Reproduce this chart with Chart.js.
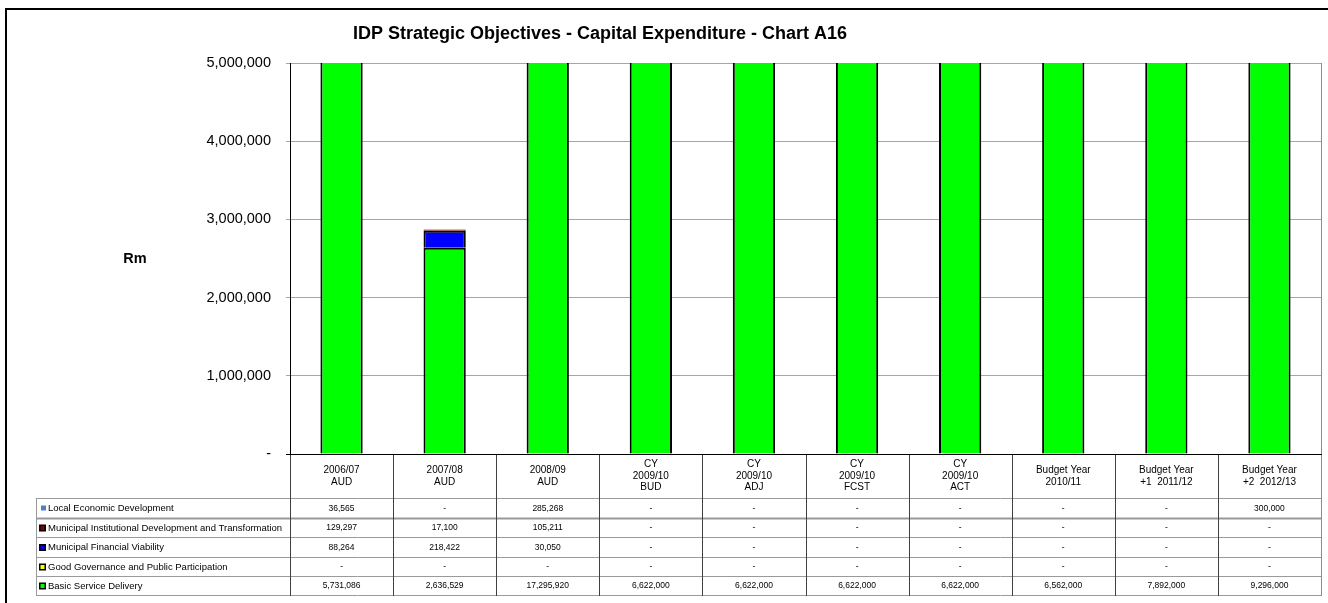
<!DOCTYPE html>
<html>
<head>
<meta charset="utf-8">
<title>IDP Strategic Objectives - Capital Expenditure - Chart A16</title>
<script src="https://cdn.jsdelivr.net/npm/chart.js@4/dist/chart.umd.min.js"></script>
<style>
  html, body {
    margin: 0;
    padding: 0;
    background: #ffffff;
  }
  canvas {
    display: block;
  }
</style>
</head>
<body>
<canvas id="capexChart" width="1328" height="603"></canvas>
<script>

// =====================================================
// DATA
// =====================================================

const TITLE =
  "IDP Strategic Objectives - Capital Expenditure - Chart A16";

const Y_TITLE = "Rm";

const categories = [
  ["2006/07", "AUD"],
  ["2007/08", "AUD"],
  ["2008/09", "AUD"],
  ["CY", "2009/10", "BUD"],
  ["CY", "2009/10", "ADJ"],
  ["CY", "2009/10", "FCST"],
  ["CY", "2009/10", "ACT"],
  ["Budget Year", "2010/11"],
  ["Budget Year", "+1  2011/12"],
  ["Budget Year", "+2  2012/13"]
];

const localEconomic =
  [36565, 0, 285268, 0, 0, 0, 0, 0, 0, 300000];

const institutional =
  [129297, 17100, 105211, 0, 0, 0, 0, 0, 0, 0];

const financialViability =
  [88264, 218422, 30050, 0, 0, 0, 0, 0, 0, 0];

const goodGovernance =
  [0, 0, 0, 0, 0, 0, 0, 0, 0, 0];

const basicService =
  [5731086, 2636529, 17295920, 6622000, 6622000,
   6622000, 6622000, 6562000, 7892000, 9296000];

const yTicks = [0, 1000000, 2000000, 3000000, 4000000, 5000000];

// =====================================================
// SERIES (bottom of stack first)
// =====================================================

const series = [
  { label: "Basic Service Delivery", data: basicService, color: "#00ff00", swatchBorder: true },
  { label: "Good Governance and Public Participation", data: goodGovernance, color: "#ffff00", swatchBorder: true },
  { label: "Municipal Financial Viability", data: financialViability, color: "#0000ff", swatchBorder: true },
  { label: "Municipal Institutional Development and Transformation", data: institutional, color: "#800000", swatchBorder: true },
  { label: "Local Economic Development", data: localEconomic, color: "#4f81bd", swatchBorder: false }
];

const FONT = "Arial, 'Liberation Sans', sans-serif";

function fmt(v) {
  return v === 0 ? "-" : v.toLocaleString("en-US");
}

// =====================================================
// PLUGIN: frame, titles, data table
// =====================================================

const excelPlugin = {

  id: "excelLook",

  beforeDraw(chart) {
    const ctx = chart.ctx;
    ctx.save();
    ctx.fillStyle = "#ffffff";
    ctx.fillRect(0, 0, chart.width, chart.height);

    // outer frame
    ctx.strokeStyle = "#000000";
    ctx.lineWidth = 2;
    ctx.beginPath();
    ctx.moveTo(6, chart.height);
    ctx.lineTo(6, 9);
    ctx.lineTo(chart.width, 9);
    ctx.stroke();

    // chart title
    ctx.fillStyle = "#000000";
    ctx.font = "bold 18px " + FONT;
    ctx.textAlign = "center";
    ctx.textBaseline = "middle";
    ctx.fillText(TITLE, 600, 34);

    // axis title, horizontal
    const area = chart.chartArea;
    ctx.font = "bold 14.5px " + FONT;
    ctx.fillText(Y_TITLE, 135, (area.top + area.bottom) / 2);
    ctx.restore();
  },

  afterDraw(chart) {
    const ctx = chart.ctx;
    const area = chart.chartArea;
    const x = chart.scales.x;

    const rowTops = [area.bottom, 498, 518, 537, 557, 576, 595];
    const legendLeft = 36;

    ctx.save();

    // plot right border
    ctx.strokeStyle = "#8c8c8c";
    ctx.lineWidth = 1;
    ctx.beginPath();
    ctx.moveTo(area.right + 0.5, area.top);
    ctx.lineTo(area.right + 0.5, area.bottom);
    ctx.stroke();

    // horizontal table lines
    ctx.strokeStyle = "#9a9a9a";
    for (let r = 1; r < rowTops.length; r++) {
      ctx.lineWidth = r === 2 ? 2 : 1;
      ctx.beginPath();
      ctx.moveTo(legendLeft, rowTops[r] + 0.5);
      ctx.lineTo(area.right + 1, rowTops[r] + 0.5);
      ctx.stroke();
    }
    ctx.lineWidth = 1;

    // legend column left edge
    ctx.beginPath();
    ctx.moveTo(legendLeft + 0.5, rowTops[1]);
    ctx.lineTo(legendLeft + 0.5, rowTops[rowTops.length - 1] + 1);
    ctx.stroke();

    // column separators
    for (let i = 0; i <= categories.length; i++) {
      const px = Math.round(x.getPixelForValue(i - 0.5)) + 0.5;
      ctx.strokeStyle = i === categories.length ? "#8c8c8c" : "#404040";
      ctx.beginPath();
      ctx.moveTo(px, area.bottom);
      ctx.lineTo(px, rowTops[rowTops.length - 1] + 1);
      ctx.stroke();
    }

    // x axis line
    ctx.strokeStyle = "#000000";
    ctx.beginPath();
    ctx.moveTo(area.left - 4, area.bottom + 0.5);
    ctx.lineTo(area.right + 1, area.bottom + 0.5);
    ctx.stroke();

    ctx.fillStyle = "#000000";
    ctx.textAlign = "center";
    ctx.textBaseline = "middle";

    // header labels
    ctx.font = "10px " + FONT;
    const headMid = (rowTops[0] + rowTops[1]) / 2;
    categories.forEach((lines, i) => {
      const cx = x.getPixelForValue(i);
      const lh = 11.5;
      const start = headMid - (lines.length - 1) * lh / 2;
      lines.forEach((t, k) => ctx.fillText(t, cx, start + k * lh));
    });

    // rows: table order is reverse of the stack
    const rows = series.slice().reverse();
    rows.forEach((s, r) => {
      const mid = (rowTops[r + 1] + rowTops[r + 2]) / 2 + 0.5;

      // swatch
      if (s.swatchBorder) {
        ctx.fillStyle = "#000000";
        ctx.fillRect(39, mid - 3.5, 7, 7);
        ctx.fillStyle = s.color;
        ctx.fillRect(40.5, mid - 2, 4, 4);
      } else {
        ctx.fillStyle = s.color;
        ctx.fillRect(41, mid - 3, 5, 5);
      }

      ctx.fillStyle = "#000000";
      ctx.font = "9.5px " + FONT;
      ctx.textAlign = "left";
      ctx.fillText(s.label, 48, mid);

      ctx.font = "8.5px " + FONT;
      ctx.textAlign = "center";
      s.data.forEach((v, i) => {
        ctx.fillText(fmt(v), x.getPixelForValue(i), mid);
      });
    });

    ctx.restore();
  }
};

// =====================================================
// CHART
// =====================================================

const capexChart = new Chart(
  document.getElementById("capexChart"),
  {
    type: "bar",

    data: {
      labels: categories,
      datasets: series.map(s => ({
        label: s.label,
        data: s.data,
        backgroundColor: s.color,
        borderColor: "#000000",
        borderWidth: 2,
        categoryPercentage: 1,
        barPercentage: 0.41
      }))
    },

    options: {
      responsive: false,
      animation: false,
      devicePixelRatio: 1,

      layout: {
        padding: { top: 63, right: 7, bottom: 149, left: 0 }
      },

      plugins: {
        legend: { display: false },
        title: { display: false },
        tooltip: { enabled: false }
      },

      scales: {
        x: {
          stacked: true,
          display: false
        },
        y: {
          stacked: true,
          min: 0,
          max: 5000000,
          afterFit(scale) {
            scale.width = 290;
          },
          afterBuildTicks(scale) {
            scale.ticks = yTicks.map(v => ({ value: v }));
          },
          ticks: {
            color: "#000000",
            font: { family: FONT, size: 14.5 },
            padding: 15,
            callback: v => fmt(v)
          },
          grid: {
            color: "#a6a6a6",
            tickLength: 4,
            tickColor: "#a6a6a6"
          },
          border: {
            color: "#000000",
            width: 1
          }
        }
      }
    },

    plugins: [excelPlugin]
  }
);

</script>
</body>
</html>
